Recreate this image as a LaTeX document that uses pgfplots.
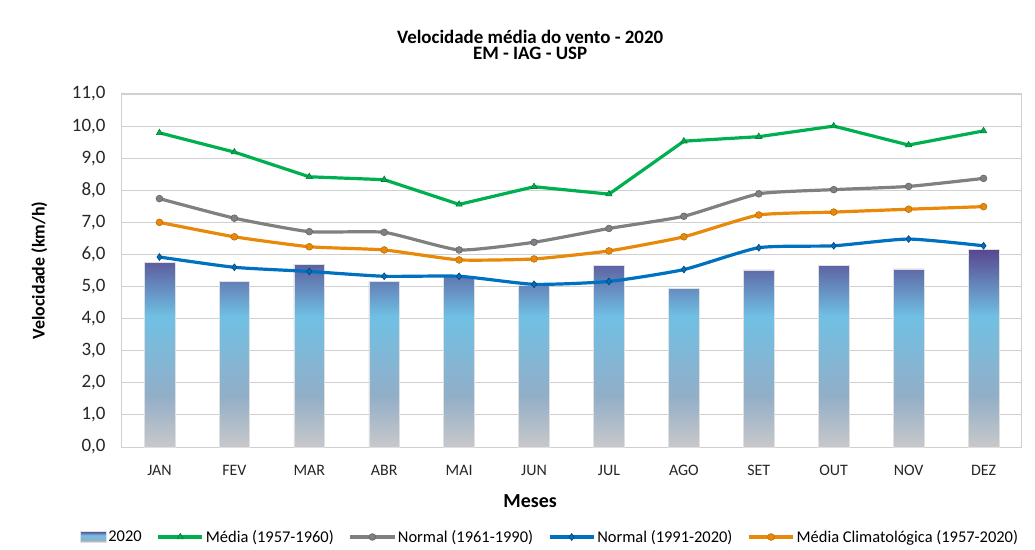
\documentclass[border=0pt]{standalone}
\usepackage{pgfplots}
\pgfplotsset{compat=1.18}
\usepackage{fontspec}
\setmainfont{Carlito}
\definecolor{cpurple}{RGB}{88,70,142}
\definecolor{clblue}{RGB}{112,192,228}
\definecolor{cgblue}{RGB}{146,174,200}
\definecolor{cgrey}{RGB}{200,200,202}
\definecolor{cgreen}{RGB}{0,176,80}
\definecolor{cgray}{RGB}{128,128,128}
\definecolor{cblue}{RGB}{0,112,192}
\definecolor{corange}{RGB}{232,137,10}
\definecolor{gridc}{RGB}{208,208,208}
\pgfdeclareverticalshading{barshade}{100bp}{color(0bp)=(cgrey); color(25bp)=(cgrey); color(38bp)=(cgblue); color(58bp)=(clblue); color(75bp)=(cpurple); color(100bp)=(cpurple)}
\begin{document}
\begin{tikzpicture}[x=1bp,y=1bp]
\useasboundingbox (-122bp,-103bp) rectangle (913bp,447bp);
\begin{axis}[
  at={(0,0)}, anchor=south west,
  scale only axis, width=899bp, height=353bp,
  xmin=-0.5, xmax=11.5, ymin=0, ymax=11,
  xtick={0,...,11},
  xticklabels={JAN,FEV,MAR,ABR,MAI,JUN,JUL,AGO,SET,OUT,NOV,DEZ},
  ytick={0,1,...,11},
  /pgf/number format/fixed, /pgf/number format/fixed zerofill, /pgf/number format/precision=1, /pgf/number format/use comma, /pgf/number format/assume math mode=true,
  ticklabel style={text=black!85},
  major tick length=0pt,
  xticklabel style={yshift=-15bp, font=\fontsize{16}{18}\selectfont},
  yticklabel style={xshift=-13bp, font=\fontsize{19}{20}\selectfont},
  ymajorgrids, grid style={gridc, line width=0.9bp},
  axis line style={gridc, line width=1bp},
  title={Velocidade média do vento - 2020\\EM - IAG - USP},
  title style={at={(axis description cs:0.454,1.122)}, anchor=center, align=center, font=\bfseries\fontsize{19}{17}\selectfont},
  xlabel={Meses},
  xlabel style={at={(axis description cs:0.454,-0.152)}, anchor=center, font=\bfseries\fontsize{20}{22}\selectfont},
  ylabel={Velocidade (km/h)},
  ylabel style={at={(axis description cs:-0.092,0.5)}, anchor=center, font=\bfseries\fontsize{18}{20}\selectfont},
  legend style={at={(axis description cs:0.476,-0.255)}, anchor=center, draw=none, legend columns=-1, font=\fontsize{16.5}{19}\selectfont, /tikz/every even column/.append style={column sep=13bp}, /tikz/every odd column/.append style={column sep=0bp}},
  legend cell align=left,
  legend image code/.code={\draw[mark repeat=2,mark phase=2,#1] plot coordinates {(0bp,0bp) (22bp,0bp) (44bp,0bp)};},
]
\addplot[ybar, bar width=0.41, shading=barshade, draw=black!12, line width=0.6bp,
  legend image code/.code={\path[shading=barshade, draw=black!12] (0bp,-5.5bp) rectangle (26bp,5.5bp);}] coordinates {
(0,5.74) (1,5.17) (2,5.69) (3,5.17) (4,5.31) (5,5.03) (6,5.66) (7,4.95) (8,5.52) (9,5.66) (10,5.55) (11,6.16)};
\addlegendentry{2020}
\addplot[cgreen, line width=3.2bp, mark=triangle*, mark size=3.6bp, mark options={fill=cgreen, draw=cgreen!70!black, line width=0.6bp}] coordinates {
(0,9.79) (1,9.19) (2,8.42) (3,8.33) (4,7.56) (5,8.11) (6,7.88) (7,9.53) (8,9.67) (9,10.0) (10,9.41) (11,9.85)};
\addlegendentry{Média (1957-1960)}
\addplot[cgray, line width=3.2bp, smooth, tension=0.3, mark=*, mark size=3.4bp, mark options={fill=cgray, draw=black!60, line width=0.6bp}] coordinates {
(0,7.74) (1,7.13) (2,6.71) (3,6.69) (4,6.14) (5,6.38) (6,6.81) (7,7.19) (8,7.89) (9,8.02) (10,8.12) (11,8.37)};
\addlegendentry{Normal (1961-1990)}
\addplot[cblue, line width=3.2bp, smooth, tension=0.35, mark=diamond*, mark size=3.4bp, mark options={fill=cblue, draw=cblue!60!black, line width=0.6bp}] coordinates {
(0,5.92) (1,5.60) (2,5.47) (3,5.32) (4,5.32) (5,5.07) (6,5.16) (7,5.53) (8,6.21) (9,6.27) (10,6.48) (11,6.27)};
\addlegendentry{Normal (1991-2020)}
\addplot[corange, line width=3.2bp, smooth, tension=0.3, mark=*, mark size=3.4bp, mark options={fill=corange, draw=corange!80!black, line width=0.6bp}] coordinates {
(0,7.00) (1,6.55) (2,6.24) (3,6.14) (4,5.83) (5,5.86) (6,6.11) (7,6.55) (8,7.23) (9,7.32) (10,7.41) (11,7.49)};
\addlegendentry{Média Climatológica (1957-2020)}
\end{axis}
\end{tikzpicture}
\end{document}
